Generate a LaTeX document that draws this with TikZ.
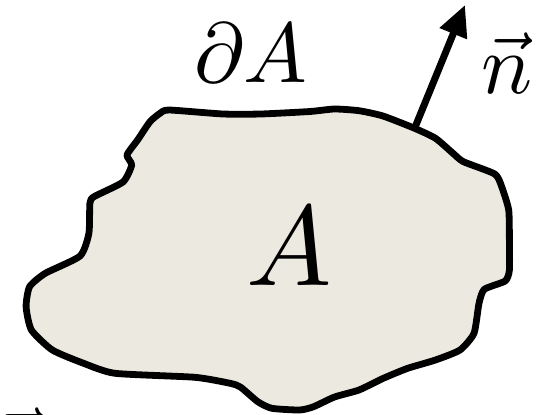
\documentclass[tikz,border=0pt]{standalone}
\usetikzlibrary{arrows.meta}
\definecolor{blobfill}{RGB}{236,234,224}
\tikzset{
  blob/.style={draw=black, fill=blobfill, line width=6.8pt, line join=round},
  normalvec/.style={line width=7pt, -{Triangle[length=31pt,width=28pt]}},
  lbl/.style={inner sep=0pt, outer sep=0pt}
}
\begin{document}
\begin{tikzpicture}[x=1pt,y=-1pt]
\useasboundingbox (0,0) rectangle (544,415);
\clip (0,0) rectangle (544,415);
\draw[blob] plot[smooth cycle, tension=0.35] coordinates {
 (169,110) (223,114) (261,114) (310,111.5) (334.5,109) (359,110.7) (383,116)
 (414.6,128.3) (435.5,138.3) (453,153.3) (463.4,161.7) (494.8,174) (501.7,186.7)
 (508.7,210) (509.4,240) (509.4,270) (505.2,281) (484.3,289.3) (479,303.3)
 (474,333.3) (460,350) (435.5,360) (407.7,368.3) (383.3,378.3) (359,390)
 (334.5,397) (313.6,406.7) (299.7,410) (271.8,408.3) (257.8,401.7) (240.4,387)
 (230,383.3) (195,377.3) (115,373.3) (83.6,363.3) (52.3,350) (31.4,330)
 (26.1,306.7) (29.6,286.7) (45.3,273.3) (80.1,256) (88.9,233.3) (89.9,203.3)
 (94,196.7) (123,182) (131.7,165) (127,155) (137.6,140) (150,121.7) (160,113.3)
};
\coordinate (base) at (414.6,128.3);
\coordinate (tip) at (465,5);
\draw[normalvec] (base) -- (tip);
\node[lbl, anchor=base] (boundary) at (251,82) {\scalebox{8.5}{$\partial A$}};
\node[lbl, anchor=base] (area) at (289,285) {\scalebox{11.4}{$A$}};
\node[lbl, anchor=base] (nvec) at (507,93) {\scalebox{8.5}{$\vec{n}$}};
\node[lbl, anchor=base] (hidden) at (18,468) {\scalebox{8.5}{$\vec{n}$}};
\end{tikzpicture}
\end{document}
